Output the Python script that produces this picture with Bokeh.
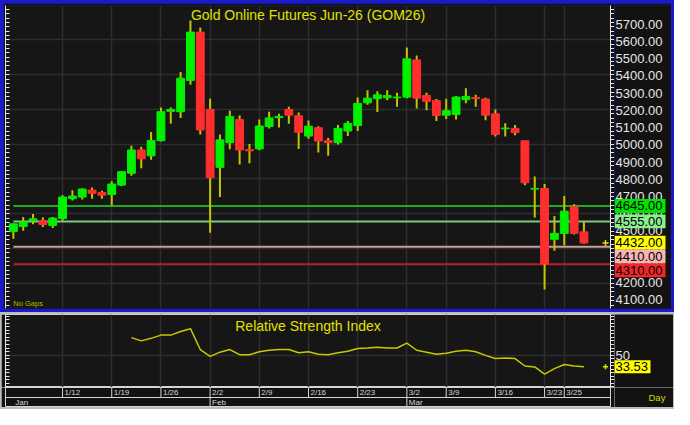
import numpy as np
from bokeh.plotting import figure
from bokeh.models import (ColumnDataSource, Range1d, LinearAxis, FixedTicker,
                          Grid, Label, Span)
from bokeh.layouts import column, row
from bokeh.embed import file_html
from bokeh.resources import INLINE
from bokeh.core.properties import value

# ---------------- data ----------------
dates = ["1/5", "1/6", "1/7", "1/8", "1/9",
         "1/12", "1/13", "1/14", "1/15", "1/16",
         "1/19", "1/20", "1/21", "1/22", "1/23",
         "1/26", "1/27", "1/28", "1/29", "1/30",
         "2/2", "2/3", "2/4", "2/5", "2/6",
         "2/9", "2/10", "2/11", "2/12", "2/13",
         "2/16", "2/17", "2/18", "2/19", "2/20",
         "2/23", "2/24", "2/25", "2/26", "2/27",
         "3/2", "3/3", "3/4", "3/5",
         "3/9", "3/10", "3/11", "3/12", "3/13",
         "3/16", "3/17", "3/18", "3/19", "3/20",
         "3/23", "3/24", "3/25", "3/26", "3/27"]

opens = [4497, 4527, 4560, 4560, 4533, 4573, 4687, 4696, 4736, 4722,
         4711, 4765, 4833, 4967, 4933, 5020, 5189, 5187, 5367, 5645,
         5200, 4867, 5009, 5142, 4969, 4973, 5102, 5153, 5200, 5164,
         5047, 5095, 5020, 5009, 5076, 5107, 5238, 5262, 5267, 5267,
         5271, 5485, 5280, 5251, 5167, 5171, 5256, 5269, 5260, 5175,
         5089, 5091, 5020, 4742, 4745, 4453, 4487, 4640, 4496]
highs = [4545, 4582, 4598, 4578, 4582, 4706, 4735, 4747, 4751, 4733,
         4787, 4844, 4991, 4985, 5071, 5211, 5211, 5415, 5711, 5671,
         5262, 5056, 5193, 5165, 5002, 5142, 5187, 5176, 5215, 5182,
         5136, 5104, 5036, 5111, 5133, 5269, 5311, 5305, 5311, 5296,
         5556, 5511, 5296, 5260, 5262, 5278, 5322, 5284, 5267, 5200,
         5120, 5111, 5020, 4815, 4771, 4587, 4702, 4655, 4553]
lows = [4456, 4502, 4540, 4524, 4518, 4560, 4676, 4682, 4687, 4687,
        4647, 4760, 4818, 4862, 4911, 5015, 5118, 5151, 5342, 5056,
        4491, 4696, 4971, 4884, 4891, 4966, 5091, 5096, 5118, 4973,
        5031, 4953, 4933, 4998, 5047, 5076, 5227, 5185, 5253, 5216,
        5265, 5205, 5196, 5133, 5145, 5142, 5236, 5216, 5138, 5045,
        5045, 5051, 4764, 4578, 4164, 4387, 4418, 4480, 4427]
closes = [4542, 4553, 4571, 4538, 4575, 4696, 4702, 4742, 4718, 4707,
          4771, 4842, 4967, 4916, 5022, 5187, 5200, 5380, 5645, 5082,
          4807, 5025, 5160, 4967, 4962, 5105, 5151, 5160, 5167, 5069,
          5104, 5018, 5009, 5091, 5120, 5235, 5265, 5284, 5280, 5271,
          5491, 5265, 5247, 5165, 5193, 5271, 5275, 5262, 5167, 5056,
          5093, 5067, 4778, 4745, 4311, 4487, 4615, 4487, 4432]

rsi = [None] * 12 + [
    74.7, 70.1, 73.7, 78.3, 78.3, 83.3, 87.4, 57.8, 48.2, 54.1,
    57.8, 50.5, 50.5, 54.6, 56.8, 57.8, 57.8, 53.2, 54.6, 51.0,
    50.5, 53.2, 55.5, 59.2, 60.0, 61.0, 60.0, 60.0, 66.9, 56.8,
    54.1, 51.0, 52.7, 55.5, 56.8, 54.6, 49.6, 45.0, 45.9, 45.0,
    34.5, 33.1, 23.0, 30.8, 36.7, 34.5, 33.53]

tick_labels = ["1/12", "1/19", "1/26", "2/2", "2/9", "2/16", "2/23",
               "3/2", "3/9", "3/16", "3/23", "3/25"]
months = ["Jan", "Feb", "Mar"]
month_first = ["1/5", "2/2", "3/2"]

price_ticks = [4100, 4200, 4300, 4400, 4500, 4600, 4700, 4800, 4900,
               5000, 5100, 5200, 5300, 5400, 5500, 5600, 5700]
price_grid = [4200, 4400, 4600, 4800, 5000, 5200, 5400, 5600]
rsi_ticks = [50]

levels = [4645, 4555, 4410, 4310]
level_line_colors = ["#1faa1f", "#80c880", "#d09a9a", "#b82222"]
level_box_colors = ["#00e400", "#8cee8c", "#f8b4b4", "#f02828"]

title_text = "Gold Online Futures Jun-26 (GOM26)"
rsi_title = "Relative Strength Index"

# ---------------- style ----------------
FONT = "Liberation Sans"
BG = "#161616"
BORDER = "#121212"
GRID = "#2e2e2e"
GREEN = "#00f000"
RED = "#ff2e2e"
WICK = "#c4c400"
YELLOW = "#e2e200"
AXIS = "#e6e6e6"
EDGE = "#d4d4d4"

idx = np.arange(len(dates))
o = np.array(opens, float)
h = np.array(highs, float)
l = np.array(lows, float)
c = np.array(closes, float)
up = c >= o
tick_idx = [dates.index(t) for t in tick_labels]
month_idx = [dates.index(m) for m in month_first]

X0, X1 = -0.8, 60.7
Y0, Y1 = 4055, 5798
R0, R1 = 4, 107.5

FW = 605                      # frame width of every panel
PH, P_TOP, P_BOT = 306, 2, 1  # price panel
PFH = PH - P_TOP - P_BOT
ppx = FW / (X1 - X0)
ppy = PFH / (Y1 - Y0)
RH = 73
ppr = RH / (R1 - R0)


def dec_axis(ticks_minor, tin, tout):
    return LinearAxis(ticker=FixedTicker(ticks=[], minor_ticks=ticks_minor),
                      axis_line_color=AXIS, minor_tick_line_color=AXIS,
                      major_tick_line_color=AXIS, major_tick_in=0, major_tick_out=0,
                      minor_tick_in=tin, minor_tick_out=tout,
                      major_label_standoff=0)


def side_fig(width, height, yr):
    f = figure(width=width, height=height, output_backend="svg", toolbar_location=None,
               x_range=Range1d(0, width), y_range=yr,
               x_axis_location=None, y_axis_location=None,
               min_border_left=0, min_border_right=0,
               min_border_top=0, min_border_bottom=0,
               background_fill_color=BORDER, border_fill_color=BORDER,
               outline_line_color=None)
    f.grid.visible = False
    return f


# ---------------- price panel ----------------
p = figure(width=2 + FW + 4, height=PH, output_backend="svg", toolbar_location=None,
           x_range=Range1d(X0, X1), y_range=Range1d(Y0, Y1),
           x_axis_location=None, y_axis_location=None,
           min_border_left=2, min_border_right=4,
           min_border_top=P_TOP, min_border_bottom=P_BOT,
           background_fill_color=BG, border_fill_color=BORDER,
           outline_line_color=None)
p.margin = (3, 0, 3, 3)
p.grid.visible = False
p.add_layout(Grid(dimension=1, ticker=FixedTicker(ticks=price_grid),
                  grid_line_color=GRID, grid_line_width=1.5))
p.add_layout(Grid(dimension=0, ticker=FixedTicker(ticks=tick_idx),
                  grid_line_color=GRID, grid_line_width=1.5))
minor25 = list(np.arange(4075, 5800, 25))
p.add_layout(dec_axis(minor25, 0, 4), "right")
p.add_layout(dec_axis(minor25, 4, 0), "left")

# level lines
p.segment(x0=[idx[0]] * len(levels), x1=[X1] * len(levels), y0=levels, y1=levels,
          line_color=level_line_colors, line_width=2)

# candles
src = ColumnDataSource(dict(x=idx, h=h, l=l,
                            top=np.maximum(o, c), bot=np.minimum(o, c),
                            color=[GREEN if u else RED for u in up]))
p.segment(x0="x", y0="l", x1="x", y1="h", source=src, line_color=WICK, line_width=2)
p.vbar(x="x", width=0.8, top="top", bottom="bot", source=src,
       fill_color="color", line_color="color", line_width=1)

p.add_layout(Label(x=(X0 + X1) / 2, y=Y1 - 1 / ppy, text=title_text,
                   text_align="center", text_baseline="top",
                   text_font=FONT, text_font_size="14px", text_color=YELLOW))
p.add_layout(Label(x=idx[0], y=Y0 + 1 / ppy, text="No Gaps",
                   text_align="left", text_baseline="bottom",
                   text_font=FONT, text_font_size="7.5px", text_color="#b8b800"))
p.scatter(x=[X1 - 5 / ppx], y=[c[-1]], marker="cross", size=6,
          line_color=YELLOW, line_width=1.5)

# price labels column (frame spans the full height, same scale as the chart)
pl = side_fig(668 - (2 + FW + 4), PH, Range1d(Y0 - P_BOT / ppy, Y1 + P_TOP / ppy))
pl.margin = (3, 3, 3, 0)
pl.text(x=[1] * len(price_ticks), y=price_ticks, text=[f"{v:.2f}" for v in price_ticks],
        text_baseline="middle", text_align="left", text_font=value(FONT),
        text_font_size="13px", text_color=AXIS)

boxes = [(lv, col) for lv, col in zip(levels, level_box_colors)]
boxes.append((c[-1], "#ffff00"))
boxes.sort(key=lambda b: -b[0])
min_sep = 14 / ppy
half = 7 / ppy
pos_list, prev = [], None
for val, col in boxes:
    pos = val
    if prev is not None and prev - pos < min_sep:
        pos = prev - min_sep
    prev = pos
    pos_list.append(pos)
bsrc = ColumnDataSource(dict(y=pos_list, top=[v + half for v in pos_list],
                             bottom=[v - half for v in pos_list],
                             color=[b[1] for b in boxes],
                             text=[f"{b[0]:.2f}" for b in boxes]))
pl.quad(left=0, right=51, top="top", bottom="bottom", source=bsrc,
        fill_color="color", line_color=None)
pl.text(x=1, y="y", text="text", source=bsrc, text_baseline="middle",
        text_align="left", text_font=value(FONT), text_font_size="13px",
        text_color="#000000")

# ---------------- RSI panel ----------------
RW = 4 + FW + 4
r = figure(width=RW, height=RH, output_backend="svg", toolbar_location=None,
           x_range=p.x_range, y_range=Range1d(R0, R1),
           x_axis_location=None, y_axis_location=None,
           min_border_left=4, min_border_right=4,
           min_border_top=0, min_border_bottom=0,
           background_fill_color=BG, border_fill_color=BORDER,
           outline_line_color=EDGE)
r.margin = (2, 0, 0, 1)
r.grid.visible = False
r.add_layout(Grid(dimension=1, ticker=FixedTicker(ticks=rsi_ticks),
                  grid_line_color=GRID, grid_line_width=1.5))
r.add_layout(Grid(dimension=0, ticker=FixedTicker(ticks=tick_idx),
                  grid_line_color=GRID, grid_line_width=1.5))
minor5 = list(range(5, 106, 5))
r.add_layout(dec_axis(minor5, 0, 4), "right")
r.add_layout(dec_axis(minor5, 4, 0), "left")

rsi_arr = np.array([np.nan if v is None else v for v in rsi], float)
r.line(x=idx, y=rsi_arr, line_color="#c8c800", line_width=1.5)
r.add_layout(Label(x=(X0 + X1) / 2, y=R1 - 3 / ppr, text=rsi_title,
                   text_align="center", text_baseline="top",
                   text_font=FONT, text_font_size="14px", text_color=YELLOW))
r.scatter(x=[X1 - 5 / ppx], y=[rsi_arr[-1]], marker="cross", size=5,
          line_color=YELLOW, line_width=1.5)

rl = side_fig(674 - 1 - RW - 1, RH, r.y_range)
rl.margin = (2, 1, 0, 0)
rl.text(x=[1] * len(rsi_ticks), y=rsi_ticks, text=[f"{v}" for v in rsi_ticks],
        text_baseline="middle", text_align="left", text_font=value(FONT),
        text_font_size="13px", text_color=AXIS)
rhalf = 6.5 / ppr
rl.quad(left=0, right=36, top=[rsi_arr[-1] + rhalf], bottom=[rsi_arr[-1] - rhalf],
        fill_color="#ffff00", line_color=None)
rl.text(x=[1], y=[rsi_arr[-1]], text=[f"{rsi_arr[-1]:.2f}"], text_baseline="middle",
        text_align="left", text_font=value(FONT), text_font_size="13px",
        text_color="#000000")

# ---------------- date strip ----------------
s = figure(width=RW, height=20, output_backend="svg", toolbar_location=None,
           x_range=p.x_range, y_range=Range1d(0, 2),
           x_axis_location=None, y_axis_location=None,
           min_border_left=4, min_border_right=4,
           min_border_top=0, min_border_bottom=0,
           background_fill_color=BORDER, border_fill_color=BORDER,
           outline_line_color=EDGE)
s.margin = (0, 0, 2, 1)
s.grid.visible = False
s.add_layout(Span(location=1, dimension="width", line_color=EDGE, line_width=1))
s.segment(x0=tick_idx, x1=tick_idx, y0=[1] * len(tick_idx), y1=[2] * len(tick_idx),
          line_color=EDGE, line_width=1)
s.segment(x0=month_idx[1:], x1=month_idx[1:], y0=[0] * (len(month_idx) - 1),
          y1=[1] * (len(month_idx) - 1), line_color=EDGE, line_width=1)
s.text(x=tick_idx, y=[1.5] * len(tick_idx), text=tick_labels, x_offset=2,
       text_baseline="middle", text_align="left", text_font=value(FONT),
       text_font_size="8px", text_color="#d8d8d8")
s.text(x=month_idx, y=[0.5] * len(month_idx), text=months, x_offset=2,
       text_baseline="middle", text_align="left", text_font=value(FONT),
       text_font_size="8px", text_color="#d8d8d8")

sl = side_fig(674 - 1 - RW - 1, 20, Range1d(0, 2))
sl.margin = (0, 1, 2, 0)
sl.text(x=[34], y=[1], text=["Day"], text_baseline="middle", text_align="left",
        text_font=value(FONT), text_font_size="9.5px", text_color="#d8d800")

blue = column(row(p, pl), styles={"background-color": "#1a1ac8"})
layout = column(blue, row(r, rl), row(s, sl), styles={"background-color": "#bcbcbc"})

open("out.html", "w").write(file_html(layout, INLINE))
